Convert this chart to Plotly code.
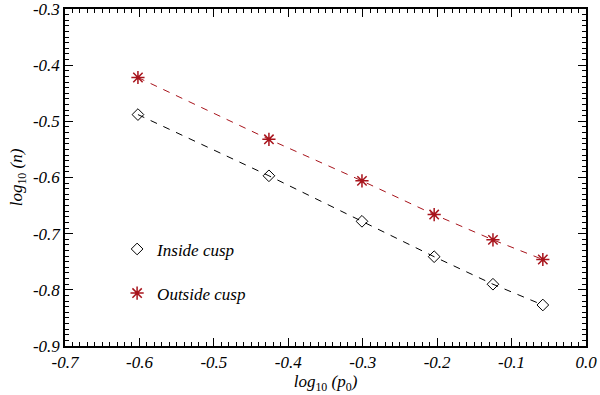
import plotly.graph_objects as go

# log10(p0) positions (p0 = 0.25 ... 0.875)
log_p0 = [-0.602, -0.426, -0.301, -0.204, -0.125, -0.058]
inside_cusp = [-0.488, -0.597, -0.678, -0.741, -0.790, -0.827]
outside_cusp = [-0.422, -0.532, -0.606, -0.666, -0.711, -0.746]

x_ticks = [-0.7, -0.6, -0.5, -0.4, -0.3, -0.2, -0.1, 0.0]
x_labels = ["-0.7", "-0.6", "-0.5", "-0.4", "-0.3", "-0.2", "-0.1", "0.0"]
y_ticks = [-0.9, -0.8, -0.7, -0.6, -0.5, -0.4, -0.3]
y_labels = ["-0.9", "-0.8", "-0.7", "-0.6", "-0.5", "-0.4", "-0.3"]

red = "#a8141c"
serif = "Liberation Serif"

fig = go.Figure()

# dashed lines (no legend)
fig.add_trace(go.Scatter(x=log_p0, y=inside_cusp, mode="lines", showlegend=False,
                         line=dict(color="black", width=1, dash="7px,7px")))
fig.add_trace(go.Scatter(x=log_p0, y=outside_cusp, mode="lines", showlegend=False,
                         line=dict(color=red, width=1, dash="7px,7px")))

# symbols
fig.add_trace(go.Scatter(
    x=log_p0, y=inside_cusp, mode="markers", name="Inside cusp", legendgroup="a",
    marker=dict(symbol="diamond-open", size=9, color="black", line=dict(width=1)),
))
fig.add_trace(go.Scatter(
    x=log_p0, y=outside_cusp, mode="markers", name="Outside cusp", legendgroup="b",
    marker=dict(symbol="asterisk-open", size=11, color=red, line=dict(width=1.5, color=red)),
))

axis_common = dict(
    showgrid=False, zeroline=False, showline=True, linecolor="black", linewidth=1.5,
    mirror="allticks", ticks="inside", ticklen=8, tickwidth=1, tickcolor="black",
    tickfont=dict(family=serif, size=17, color="black", style="italic"),
    minor=dict(ticks="inside", ticklen=4, tickwidth=1, tickcolor="black", dtick=0.01),
    automargin=False, ticklabeloverflow="allow",
)

fig.update_xaxes(axis_common, range=[-0.7, 0.0], tickmode="array", tickvals=x_ticks,
                 ticktext=["<i>%s</i>" % t for t in x_labels],
                 title=dict(text="<i>log</i><sub>10</sub> <i>(p</i><sub>0</sub><i>)</i>",
                            font=dict(family=serif, size=17, color="black"), standoff=0))
fig.update_yaxes(axis_common, range=[-0.9, -0.3], tickmode="array", tickvals=y_ticks,
                 ticktext=["<i>%s</i>" % t for t in y_labels],
                 title=dict(text="<i>log</i><sub>10</sub> <i>(n)</i>",
                            font=dict(family=serif, size=17, color="black"), standoff=6))

fig.update_layout(
    width=600, height=395,
    margin=dict(l=65, r=14, t=9, b=49),
    plot_bgcolor="white", paper_bgcolor="white",
    showlegend=True,
    legend=dict(x=0.1, y=0.34, xanchor="left", yanchor="top",
                font=dict(family=serif, size=17, color="black", style="italic"),
                bgcolor="rgba(0,0,0,0)", tracegroupgap=19),
)

fig.write_html("out.html", config={"displayModeBar": False},
               post_script="document.body.style.margin='0';document.body.style.overflow='hidden';")
